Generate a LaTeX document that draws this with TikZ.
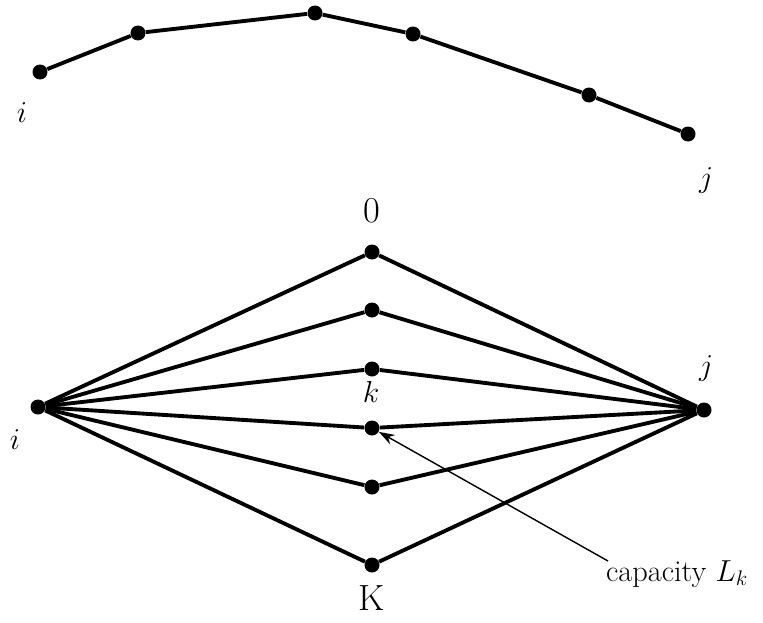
\documentclass[tikz,border=0pt]{standalone}
\usepackage{amsmath}
\usetikzlibrary{arrows,arrows.meta,positioning}

\begin{document}
\begin{tikzpicture}[
  x=0.02cm, y=-0.02cm, font=\LARGE, >={Stealth[length=9pt,width=6pt]},
  pt/.style={circle, fill=black, inner sep=0pt, minimum size=0.3cm},
  seg/.style={line width=2.2pt, draw=black},
  lab/.style={inner sep=1pt},
  big/.style={inner sep=1pt, font=\huge}
]
\useasboundingbox (0,0) rectangle (763,622);

%% single path
\node[pt] (a1) at (40,72) {};
\node[pt] (a2) at (138,33) {};
\node[pt] (a3) at (315,13) {};
\node[pt] (a4) at (413,34) {};
\node[pt] (a5) at (589,95) {};
\node[pt] (a6) at (688,134) {};
\draw[seg] (a1) -- (a2) -- (a3) -- (a4) -- (a5) -- (a6);
\node[lab] (ai) at (22,113) {$i$};
\node[lab] (aj) at (706,180) {$j$};

%% parallel routes
\node[pt] (si) at (38,407) {};
\node[pt] (sj) at (704,410) {};
\node[pt] (m0) at (372,252) {};
\node[pt] (m1) at (372,310) {};
\node[pt] (m2) at (372,369) {};
\node[pt] (m3) at (372,428) {};
\node[pt] (m4) at (372,487) {};
\node[pt] (m5) at (372,565) {};
\foreach \m in {m0,m1,m2,m3,m4,m5}
  \draw[seg] (si) -- (\m) -- (sj);

\node[lab] (bi) at (15,440) {$i$};
\node[lab] (bj) at (706,368) {$j$};
\node[big] (b0) at (372,211) {0};
\node[lab] (bk) at (371,392) {$k$};
\node[big] (bK) at (372,598) {K};

%% capacity label
\node[lab, anchor=west, font=\LARGE] (cap) at (604,574) {capacity $L_k$};
\coordinate (c0) at (608,561);
\draw[->, line width=0.8pt] (c0) -- (m3);
\end{tikzpicture}
\end{document}
